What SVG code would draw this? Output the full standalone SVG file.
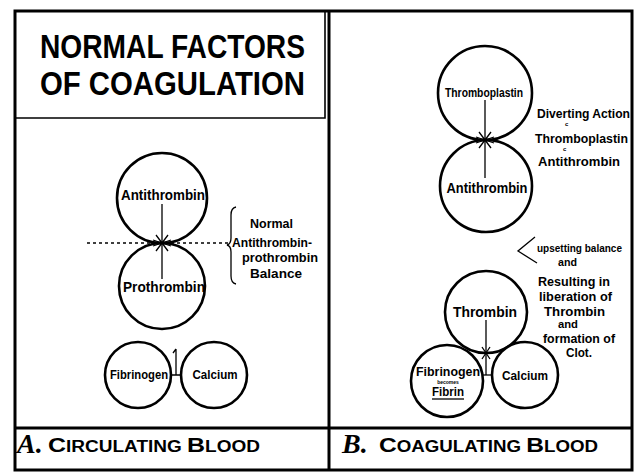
<svg xmlns="http://www.w3.org/2000/svg" width="636" height="474" viewBox="0 0 636 474">
<style>
.frame{fill:none;stroke:#000;stroke-width:3}
.thin{fill:none;stroke:#000;stroke-width:1.6}
.node{fill:#fff;stroke:#000;stroke-width:2.6}
.lbl{font-family:"Liberation Sans",Arial,sans-serif;font-weight:bold;fill:#000;text-anchor:middle}
.note{font-family:"Liberation Sans",Arial,sans-serif;font-weight:bold;fill:#000}
.title{font-family:"Liberation Sans",Arial,sans-serif;font-weight:bold;font-size:34px;fill:#000}
.big{font-family:"Liberation Serif","Times New Roman",serif;font-weight:bold;font-style:italic;font-size:28px;fill:#000}
.cap{font-family:"Liberation Sans",Arial,sans-serif;font-weight:bold;fill:#000}
.line{stroke:#000;stroke-width:1.3;fill:none}
</style>
<rect width="636" height="474" fill="#fff"/>
<g id="frame">
<rect class="frame" x="15" y="11" width="617" height="459"/>
<line class="frame" x1="329" y1="11" x2="329" y2="470"/>
<line class="frame" x1="15" y1="428" x2="632" y2="428"/>
<polyline class="thin" points="15,118 325,118 325,11"/>
</g>
<g id="title">
<text class="title" x="40" y="58" textLength="265" lengthAdjust="spacingAndGlyphs">NORMAL FACTORS</text>
<text class="title" x="40" y="95" textLength="265" lengthAdjust="spacingAndGlyphs">OF COAGULATION</text>
</g>
<g id="antithrombin-a">
<circle class="node" cx="162" cy="198" r="45"/>
<text class="lbl" x="163" y="200" font-size="14" textLength="84" lengthAdjust="spacingAndGlyphs">Antithrombin</text>
</g>
<g id="prothrombin-a">
<circle class="node" cx="162" cy="286" r="43"/>
<text class="lbl" x="164" y="292" font-size="14" textLength="82" lengthAdjust="spacingAndGlyphs">Prothrombin</text>
</g>
<g id="fibrinogen-a">
<circle class="node" cx="138" cy="375" r="33"/>
<text class="lbl" x="139" y="379" font-size="12" textLength="58" lengthAdjust="spacingAndGlyphs">Fibrinogen</text>
</g>
<g id="calcium-a">
<circle class="node" cx="214" cy="375" r="33"/>
<text class="lbl" x="215" y="379" font-size="12" textLength="45" lengthAdjust="spacingAndGlyphs">Calcium</text>
</g>
<g id="balance-note">
<text class="note" x="250" y="228" font-size="13" textLength="43" lengthAdjust="spacingAndGlyphs">Normal</text>
<text class="note" x="232" y="247" font-size="13" textLength="80" lengthAdjust="spacingAndGlyphs">Antithrombin-</text>
<text class="note" x="242" y="262" font-size="13" textLength="76" lengthAdjust="spacingAndGlyphs">prothrombin</text>
<text class="note" x="250" y="278" font-size="13" textLength="52" lengthAdjust="spacingAndGlyphs">Balance</text>
</g>
<g id="thromboplastin-b">
<circle class="node" cx="485" cy="93" r="47"/>
<text class="lbl" x="484" y="97" font-size="12" textLength="78" lengthAdjust="spacingAndGlyphs">Thromboplastin</text>
</g>
<g id="antithrombin-b">
<circle class="node" cx="486" cy="186" r="46"/>
<text class="lbl" x="487" y="193" font-size="15" textLength="81" lengthAdjust="spacingAndGlyphs">Antithrombin</text>
</g>
<g id="diverting-note">
<text class="note" x="537" y="118" font-size="12" textLength="93" lengthAdjust="spacingAndGlyphs">Diverting Action</text>
<text class="note" x="565" y="126" font-size="6">c</text>
<text class="note" x="535" y="143" font-size="12" textLength="93" lengthAdjust="spacingAndGlyphs">Thromboplastin</text>
<text class="note" x="563" y="151" font-size="6">c</text>
<text class="note" x="538" y="166" font-size="12" textLength="82" lengthAdjust="spacingAndGlyphs">Antithrombin</text>
</g>
<g id="thrombin-b">
<circle class="node" cx="486" cy="312" r="41"/>
<text class="lbl" x="485" y="317" font-size="15" textLength="64" lengthAdjust="spacingAndGlyphs">Thrombin</text>
</g>
<g id="fibrinogen-b">
<circle class="node" cx="447" cy="381" r="36"/>
<text class="lbl" x="448" y="376" font-size="12" textLength="64" lengthAdjust="spacingAndGlyphs">Fibrinogen</text>
<text class="lbl" x="448" y="384" font-size="5">becomes</text>
<text class="lbl" x="448" y="396" font-size="12" textLength="32" lengthAdjust="spacingAndGlyphs">Fibrin</text>
<line class="line" x1="432" y1="399" x2="464" y2="399" stroke-width="0.8"/>
</g>
<g id="calcium-b">
<circle class="node" cx="525" cy="375" r="33"/>
<text class="lbl" x="525" y="380" font-size="12" textLength="46" lengthAdjust="spacingAndGlyphs">Calcium</text>
</g>
<g id="result-note" class="note">
<text x="537" y="252" font-size="11" textLength="85" lengthAdjust="spacingAndGlyphs">upsetting balance</text>
<text x="558" y="266" font-size="10" textLength="19" lengthAdjust="spacingAndGlyphs">and</text>
<text x="538" y="286" font-size="13" textLength="72" lengthAdjust="spacingAndGlyphs">Resulting in</text>
<text x="539" y="301" font-size="13" textLength="73" lengthAdjust="spacingAndGlyphs">liberation of</text>
<text x="544" y="316" font-size="13" textLength="61" lengthAdjust="spacingAndGlyphs">Thrombin</text>
<text x="558" y="328" font-size="11" textLength="20" lengthAdjust="spacingAndGlyphs">and</text>
<text x="543" y="343" font-size="13" textLength="72" lengthAdjust="spacingAndGlyphs">formation of</text>
<text x="566" y="357" font-size="13" textLength="26" lengthAdjust="spacingAndGlyphs">Clot.</text>
</g>
<g id="connectors">
<line class="line" x1="87" y1="243" x2="228" y2="243" stroke-dasharray="3,3" stroke-width="1"/>
<line class="line" x1="162" y1="204" x2="162" y2="279"/>
<path class="line" d="M156,235 L168,251 M168,235 L156,251 M153,240 L171,246 M171,240 L153,246"/>
<path class="line" d="M176,349 L176,375 M171,375 L181,375 M176,349 L173,353"/>
<line class="line" x1="485" y1="100" x2="485" y2="178"/>
<path class="line" d="M479,132 L491,148 M491,132 L479,148 M476,137 L494,143 M494,137 L476,143"/>
<line class="line" x1="486" y1="320" x2="486" y2="375"/>
<path class="line" d="M482,347 L490,359 M490,347 L482,359"/>
<line class="line" x1="482" y1="375" x2="493" y2="375"/>
<polyline class="line" points="535,237 518,251 537,263" stroke-width="1"/>
<path class="line" d="M236,207 Q231,208 231,215 L231,238 Q231,244 227,245 Q231,246 231,252 L231,276 Q231,283 236,284" stroke-width="1.2"/>
</g>
<g id="caption-a">
<text class="big" x="17" y="453">A.</text>
<text class="cap" x="48" y="452" textLength="212" lengthAdjust="spacingAndGlyphs"><tspan font-size="21">C</tspan><tspan font-size="16">IRCULATING </tspan><tspan font-size="21">B</tspan><tspan font-size="16">LOOD</tspan></text>
</g>
<g id="caption-b">
<text class="big" x="342" y="453">B.</text>
<text class="cap" x="379" y="452" textLength="219" lengthAdjust="spacingAndGlyphs"><tspan font-size="21">C</tspan><tspan font-size="16">OAGULATING </tspan><tspan font-size="21">B</tspan><tspan font-size="16">LOOD</tspan></text>
</g>
</svg>
